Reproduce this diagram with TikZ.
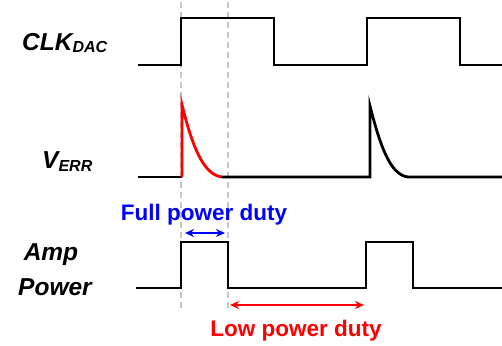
\documentclass[tikz,border=0pt]{standalone}
\usepackage{fontspec}
\usepackage{tikz}
\usetikzlibrary{arrows.meta}
\newfontfamily\arialfont{Liberation Sans}
\newcommand{\sublbl}[2]{\raisebox{-#1}{\fontsize{16}{16}\selectfont #2}}

\begin{document}
\begin{tikzpicture}[x=1pt, y=-1pt,
    wave/.style={line width=2.8pt, line join=miter},
    guide/.style={gray!45, line width=1.8pt, dash pattern=on 6pt off 4pt},
    duty/.style={line width=2.2pt, {Stealth[length=9pt,width=8pt]}-{Stealth[length=9pt,width=8pt]}},
    lbl/.style={font=\arialfont\bfseries\itshape\fontsize{24.5}{24.5}\selectfont, inner sep=0pt},
    dutylbl/.style={font=\arialfont\bfseries\fontsize{22.5}{22.5}\selectfont, inner sep=0pt}]
\useasboundingbox (0,0) rectangle (502,345);

% Guide lines
\draw[guide] (181,2) -- (181,308);
\draw[guide] (228,2) -- (228,308);

% Signal names
\node[lbl, anchor=base west] (clkl) at (22,50) {CLK\sublbl{2pt}{DAC}};
\node[lbl, anchor=base west] (errl) at (42,168) {V\sublbl{3.5pt}{ERR}};
\node[lbl, anchor=base] (ampl) at (51,260) {Amp};
\node[lbl, anchor=base] (powl) at (55,295) {Power};

% Clock
\draw[wave] (138,65) -- (181,65) -- (181,18) -- (274,18) -- (274,65)
    -- (367,65) -- (367,18) -- (460,18) -- (460,65) -- (502,65);

% Error voltage
\draw[wave] (138,177) -- (182,177);
\draw[wave, red] (182,177) -- (182,105)
    .. controls (192,145) and (203,175) .. (222,177);
\draw[wave] (222,177) -- (370,177) -- (370,106)
    .. controls (380,145) and (390,175) .. (408,177) -- (502,177);

% Amplifier power
\draw[wave] (136,288) -- (181,288) -- (181,242) -- (228,242) -- (228,288)
    -- (366,288) -- (366,242) -- (413,242) -- (413,288) -- (502,288);

% Duty markers
\coordinate (fulla) at (185,233);
\coordinate (fullb) at (225,233);
\coordinate (lowa) at (230,305);
\coordinate (lowb) at (364,305);
\draw[duty, blue] (fulla) -- (fullb);
\draw[duty, red] (lowa) -- (lowb);
\node[dutylbl, blue, anchor=base] (fulll) at (204,220) {Full power duty};
\node[dutylbl, red, anchor=base] (lowl) at (296,336.5) {Low power duty};

\end{tikzpicture}
\end{document}
